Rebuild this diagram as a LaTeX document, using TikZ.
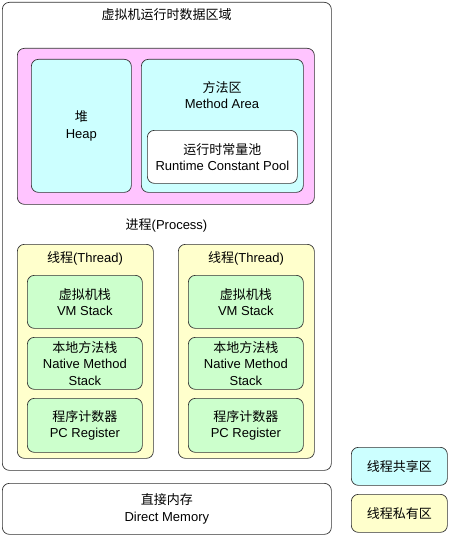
\documentclass[tikz,border=0pt]{standalone}
\usepackage{fontspec}
\setmainfont{Liberation Sans}
\newfontfamily\cjk{Noto Sans CJK SC}

\definecolor{sharedfill}{HTML}{CCFFFF}
\definecolor{privatefill}{HTML}{FFFFCC}
\definecolor{stackfill}{HTML}{CCFFCC}
\definecolor{heapfill}{HTML}{FFC4FF}

\begin{document}
\begin{tikzpicture}[x=1pt, y=-1pt,
    every node/.style={font=\fontsize{13}{16.5}\selectfont, align=center, inner sep=0pt},
    area/.style={draw=black!80, line width=0.7pt, rounded corners=7pt, anchor=north west}]
  \useasboundingbox (0,0) rectangle (448,535);

  % runtime data area
  \node[area, minimum width=329, minimum height=468] (jvm) at (2,2) {};
  \node (jvmtitle) at (166.5,15) {{\cjk 虚拟机运行时数据区域}};

  % shared part
  \node[area, fill=heapfill, minimum width=297, minimum height=156] (shared) at (17,48) {};
  \node[area, fill=sharedfill, minimum width=100, minimum height=133] (heap) at (31,59)
    {{\cjk 堆}\\Heap};
  \node[area, fill=sharedfill, minimum width=162, minimum height=133] (method) at (141,59) {};
  \node (methodtitle) at (222,95) {{\cjk 方法区}\\Method Area};
  \node[area, fill=white, minimum width=150, minimum height=53] (pool) at (147,130)
    {{\cjk 运行时常量池}\\Runtime Constant Pool};
  \node (process) at (166.5,225) {{\cjk 进程}(Process)};

  % threads
  \foreach \x/\n in {17/left, 178/right} {
    \node[area, fill=privatefill, minimum width=136, minimum height=214] (thread-\n) at (\x,244) {};
    \node (threadtitle-\n) at (\x+68,258) {{\cjk 线程}(Thread)};
    \node[area, fill=stackfill, minimum width=115, minimum height=53] (vm-\n) at (\x+10,275)
      {{\cjk 虚拟机栈}\\VM Stack};
    \node[area, fill=stackfill, minimum width=115, minimum height=52] (native-\n) at (\x+10,337)
      {{\cjk 本地方法栈}\\Native Method\\Stack};
    \node[area, fill=stackfill, minimum width=115, minimum height=54] (pc-\n) at (\x+10,398)
      {{\cjk 程序计数器}\\PC Register};
  }

  % direct memory
  \node[area, minimum width=329, minimum height=51] (direct) at (2,483)
    {{\cjk 直接内存}\\Direct Memory};

  % legend
  \node[area, fill=sharedfill, minimum width=96, minimum height=38] (legshared) at (351,447)
    {{\cjk 线程共享区}};
  \node[area, fill=privatefill, minimum width=96, minimum height=38] (legprivate) at (351,494)
    {{\cjk 线程私有区}};
\end{tikzpicture}
\end{document}
